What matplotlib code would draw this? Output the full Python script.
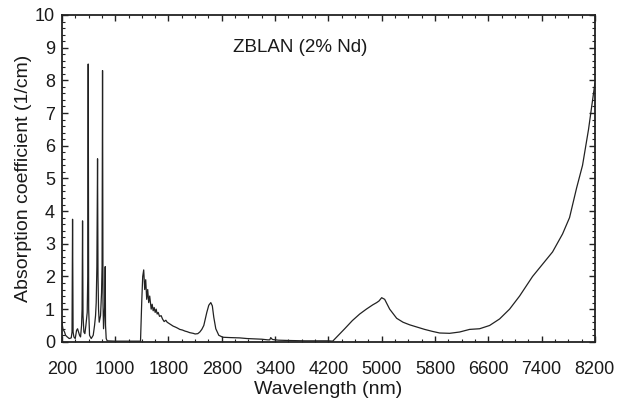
import matplotlib
matplotlib.use("Agg")
import matplotlib.pyplot as plt
from matplotlib.ticker import MultipleLocator

plt.rcParams['font.family'] = ['Liberation Sans', 'DejaVu Sans']

# Wavelength (nm) and absorption coefficient (1/cm)
wavelength = [
    200, 215, 240, 255, 280, 310, 340, 352, 360, 368, 380, 400, 420, 435, 450, 465,
    480, 495, 503, 510, 517, 530, 545, 560, 580, 588, 595, 602, 615, 640, 670, 690,
    705, 715, 725, 735, 742, 750, 760, 780, 795, 803, 810, 817, 825, 835, 845, 850,
    855, 865, 880, 1000, 1200, 1380,
    1398, 1413, 1428, 1443, 1458, 1473, 1488, 1503, 1518, 1540, 1555, 1570, 1585,
    1600, 1615, 1630, 1645, 1665, 1690, 1710, 1735, 1760, 1780, 1810, 1840, 1870,
    1905, 1935, 1970, 2010, 2045, 2080, 2120, 2170, 2200, 2240, 2270, 2300, 2330,
    2375, 2405, 2435, 2458, 2480, 2510, 2555, 2615, 2720, 2870, 2980, 3095, 3200,
    3290, 3320, 3335, 3350, 3365, 3450, 3620, 3850, 4070, 4200, 4265,
    4350, 4445, 4560, 4670, 4770, 4865, 4925, 4960, 5000, 5045, 5120, 5225,
    5320, 5420, 5530, 5645, 5760, 5870, 6020, 6170, 6320, 6470, 6620, 6770,
    6920, 7070, 7265, 7445, 7565, 7715, 7820, 7925, 8015, 8105, 8200,
]
absorption = [
    0.6, 0.4, 0.3, 0.2, 0.15, 0.1, 0.12, 0.3, 3.75, 0.3, 0.15, 0.1, 0.35, 0.4, 0.3, 0.2,
    0.15, 0.5, 1.0, 3.7, 0.8, 0.3, 0.25, 0.5, 0.9, 2.0, 8.5, 1.0, 0.2, 0.1, 0.2, 0.5,
    0.8, 1.2, 2.3, 5.6, 2.0, 1.0, 0.6, 0.8, 1.5, 2.3, 8.3, 1.2, 0.4, 0.8, 1.2, 2.3,
    0.5, 0.1, 0.03, 0.02, 0.02, 0.02,
    1.2, 2.0, 2.2, 1.6, 1.9, 1.3, 1.6, 1.2, 1.4, 1.0, 1.15, 0.95, 1.05,
    0.9, 1.0, 0.85, 0.9, 0.78, 0.8, 0.7, 0.62, 0.66, 0.6, 0.56, 0.52, 0.48,
    0.45, 0.42, 0.38, 0.36, 0.33, 0.31, 0.28, 0.26, 0.24, 0.25, 0.3, 0.38, 0.5,
    0.9, 1.12, 1.2, 1.1, 0.75, 0.4, 0.2, 0.14, 0.13, 0.12, 0.1, 0.09, 0.08,
    0.06, 0.06, 0.13, 0.09, 0.07, 0.05, 0.04, 0.03, 0.03, 0.03, 0.02,
    0.2, 0.4, 0.65, 0.85, 1.0, 1.13, 1.2, 1.25, 1.35, 1.3, 1.0, 0.72,
    0.6, 0.52, 0.45, 0.38, 0.32, 0.27, 0.26, 0.3, 0.38, 0.4, 0.5, 0.7,
    1.0, 1.4, 2.0, 2.45, 2.75, 3.3, 3.8, 4.7, 5.4, 6.5, 7.9,
]

xtick_values = [200, 1000, 1800, 2600, 3400, 4200, 5000, 5800, 6600, 7400, 8200]
xtick_labels = ['200', '1000', '1800', '2800', '3400', '4200', '5000', '5800', '6600', '7400', '8200']
ytick_values = [0, 1, 2, 3, 4, 5, 6, 7, 8, 9, 10]

fig = plt.figure(figsize=(6.19, 4.05), dpi=100)
ax = fig.add_axes([0.100, 0.156, 0.861, 0.807])

ax.plot(wavelength, absorption, color='#222222', linewidth=0.9)

ax.set_xlim(200, 8200)
ax.set_ylim(0, 10)
ax.set_xticks(xtick_values)
ax.set_xticklabels(xtick_labels)
ax.set_yticks(ytick_values)
ax.xaxis.set_minor_locator(MultipleLocator(200))
ax.yaxis.set_minor_locator(MultipleLocator(0.2))
ax.tick_params(axis='both', which='both', direction='in', top=True, right=True,
               colors='#222222', labelcolor='#1a1a1a', labelsize=13)
ax.tick_params(which='major', length=4, width=1)
ax.tick_params(which='minor', length=2.5, width=0.8)
ax.tick_params(axis='x', pad=14)
ax.tick_params(axis='y', pad=5)
for s in ax.spines.values():
    s.set_linewidth(1.3)
    s.set_color('#222222')

ax.set_xlabel('Wavelength (nm)', fontsize=14, color='#1a1a1a', labelpad=2)
ax.set_ylabel('Absorption coefficient (1/cm)', fontsize=14, color='#1a1a1a', labelpad=2)

ax.text(3780, 9.0, 'ZBLAN (2% Nd)', fontsize=13.5, color='#1a1a1a', ha='center', va='center')

fig.savefig('out.png', dpi=100)
